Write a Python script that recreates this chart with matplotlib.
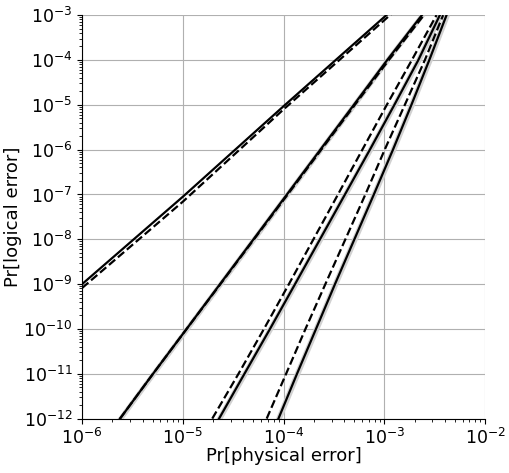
import numpy as np
import matplotlib
matplotlib.use("Agg")
import matplotlib.pyplot as plt

y_levels = [1e-12, 1e-11, 1e-10, 1e-9, 1e-8, 1e-7, 1e-6, 1e-5, 1e-4, 1e-3]

# physical error rate needed to reach each level
d5_sim = [2.38e-6, 5.06e-6, 1.09e-5, 2.34e-5, 5.03e-5, 1.08e-4, 2.32e-4, 4.99e-4, 1.07e-3, 2.36e-3]
d5_fit = [2.38e-6, 5.06e-6, 1.09e-5, 2.36e-5, 5.09e-5, 1.10e-4, 2.37e-4, 5.11e-4, 1.11e-3, 2.47e-3]
d7_sim = [2.29e-5, 4.09e-5, 7.33e-5, 1.30e-4, 2.30e-4, 4.07e-4, 7.20e-4, 1.26e-3, 2.18e-3, 3.56e-3]
d7_fit = [1.96e-5, 3.57e-5, 6.39e-5, 1.13e-4, 1.98e-4, 3.47e-4, 6.06e-4, 1.06e-3, 1.88e-3, 3.30e-3]
d9_sim = [8.90e-5, 1.36e-4, 2.10e-4, 3.24e-4, 5.05e-4, 7.88e-4, 1.22e-3, 1.86e-3, 2.80e-3, 4.15e-3]
d9_fit = [6.80e-5, 1.06e-4, 1.65e-4, 2.60e-4, 4.11e-4, 6.49e-4, 1.01e-3, 1.60e-3, 2.53e-3, 3.84e-3]

# shallowest curve, read as logical error at each physical decade
d3_p = [1e-6, 1e-5, 1e-4, 1e-3, 2e-3]
d3_sim = [1e-9, 8.9e-8, 9.3e-6, 9.1e-4, 3.6e-3]
d3_fit = [8.2e-10, 6.9e-8, 7.9e-6, 7.7e-4, 3.1e-3]

fig = plt.figure(figsize=(5.1, 4.73), dpi=100)
ax = fig.add_axes([0.161, 0.115, 0.790, 0.853])

# uncertainty bands around the simulated curves
y = np.array(y_levels)
for xs in (d5_sim, d7_sim, d9_sim):
    xs = np.array(xs)
    ax.fill_betweenx(y, xs * 0.93, xs * 1.07, color="0.82", lw=0, zorder=2)

ax.plot(d3_p, d3_sim, color="black", lw=1.6, zorder=3)
ax.plot(d3_p, d3_fit, color="black", lw=1.6, ls="--", zorder=3)
for sim, fit in ((d5_sim, d5_fit), (d7_sim, d7_fit), (d9_sim, d9_fit)):
    ax.plot(sim, y_levels, color="black", lw=1.6, zorder=3)
    ax.plot(fit, y_levels, color="black", lw=1.6, ls="--", zorder=3)

ax.set_xscale("log")
ax.set_yscale("log")
ax.set_xlim(1e-6, 1e-2)
ax.set_ylim(1e-12, 1e-3)
ax.grid(True, which="major", color="#b0b0b0", lw=0.8)
ax.set_axisbelow(True)
ax.spines["top"].set_visible(False)
ax.spines["right"].set_visible(False)
ax.tick_params(labelsize=12.5)
ax.set_xlabel("Pr[physical error]", fontsize=13, labelpad=-1)
ax.set_ylabel("Pr[logical error]", fontsize=13, labelpad=1)

fig.savefig("out.png", dpi=100)
